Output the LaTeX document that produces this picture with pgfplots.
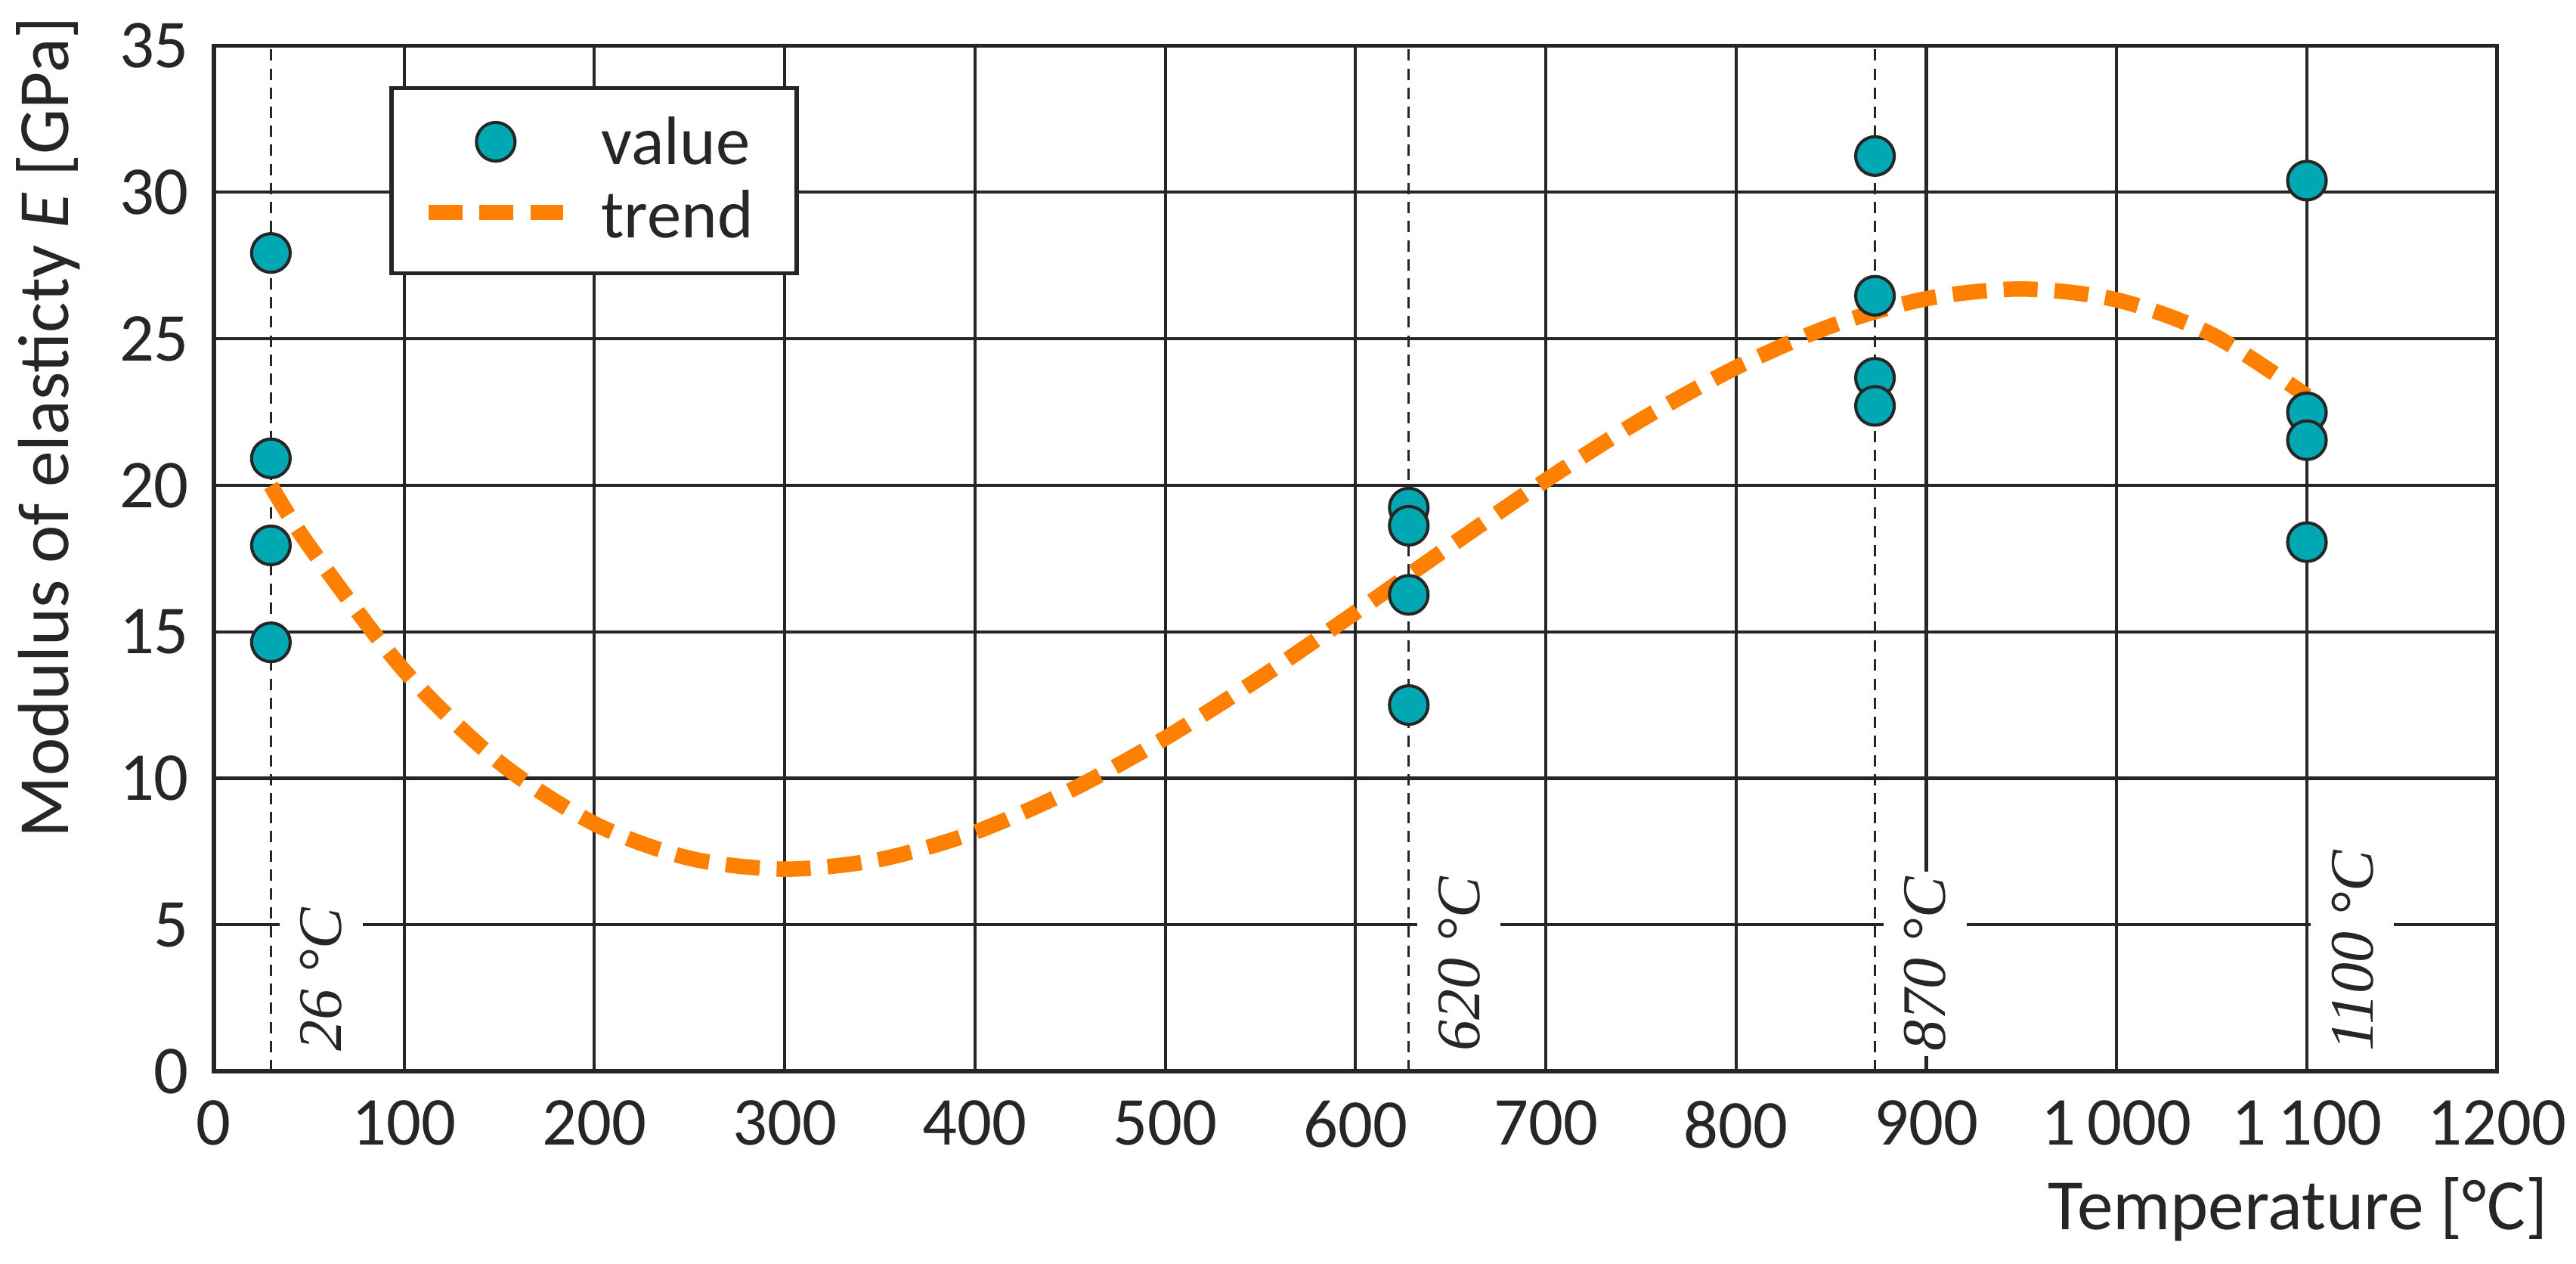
\documentclass[border=0pt]{standalone}
\usepackage{fontspec}
\setmainfont{Carlito}
\newfontfamily\labfont{Liberation Serif}
\usepackage{pgfplots}
\pgfplotsset{compat=1.18}
\usetikzlibrary{calc}
\definecolor{dk}{HTML}{262626}
\definecolor{tealc}{HTML}{00A8B4}
\definecolor{orgc}{HTML}{FF8000}
\newcommand{\fsz}{\fontsize{13.3}{16}\selectfont}
\newcommand{\lbs}{\fontsize{14}{16.8}\selectfont}
\newcommand{\lfs}{\labfont\itshape\fontsize{12}{14}\selectfont}
\pgfplotsset{
  markleg/.style={legend image code/.code={\draw[mark repeat=2,mark phase=2,##1] plot coordinates {(0pt,0.4pt) (13.1pt,0.4pt) (26.2pt,0.4pt)};}},
  lineleg/.style={legend image code/.code={\draw[##1] (0pt,1pt) -- (26.2pt,1pt);}},
}

\pgfplotstableread{
x y
30 27.93
30 20.92
30 17.95
30 14.64
628 19.24
628 18.62
628 16.26
628 12.50
873 31.24
873 26.47
873 23.67
873 22.71
1100 30.40
1100 22.49
1100 21.54
1100 18.06
}\values

\pgfplotstableread{
x y
30 19.99
50 17.94
100 13.68
150 10.55
200 8.45
250 7.27
300 6.90
350 7.23
400 8.16
450 9.58
500 11.37
550 13.43
600 15.66
650 17.94
700 20.17
750 22.23
800 24.02
850 25.44
900 26.37
950 26.70
1000 26.33
1050 25.15
1100 23.05
}\trend

\begin{document}
\begin{tikzpicture}
\begin{axis}[
  name=ax,
  scale only axis,
  width=443.2pt, height=199pt,
  xmin=0, xmax=1200, ymin=0, ymax=35,
  xtick={0,100,...,1200},
  xticklabels={0,100,200,300,400,500,600,700,800,900,1\,000,1\,100,1200},
  ytick={0,5,...,35},
  grid=major,
  major grid style={dk, line width=0.6pt},
  axis line style={dk, line width=0.8pt},
  major tick length=0pt,
  tick label style={font=\fsz, text=dk},
  xticklabel style={yshift=-2.2pt},
  yticklabel style={xshift=-1.3pt},
  /pgf/number format/assume math mode=true,
  clip=false,
  legend style={at={(rel axis cs:0.077,0.961)}, anchor=north west,
    draw=dk, line width=0.8pt, fill=white, font=\fsz, text=dk,
    inner xsep=5.6pt, inner ysep=3.9pt, row sep=0.4pt,
    nodes={inner sep=0pt, text height=10.9pt, text depth=3pt},
    cells={anchor=west},
    /tikz/every odd column/.append style={column sep=5.9pt}},
]
\addplot[dk, line width=0.45pt, dash pattern=on 2.2pt off 1.5pt, forget plot] coordinates {(30,0) (30,35)};
\addplot[dk, line width=0.45pt, dash pattern=on 2.2pt off 1.5pt, forget plot] coordinates {(628,0) (628,35)};
\addplot[dk, line width=0.45pt, dash pattern=on 2.2pt off 1.5pt, forget plot] coordinates {(873,0) (873,35)};

\node[xshift=1.5pt, yshift=2.7pt, rotate=90, anchor=north west, fill=white, inner xsep=1pt, inner ysep=4pt, font=\lfs, text=dk] at (axis cs:30,0) {26 °C};
\node[xshift=1.5pt, yshift=2.7pt, rotate=90, anchor=north west, fill=white, inner xsep=1pt, inner ysep=4pt, font=\lfs, text=dk] at (axis cs:628,0) {620 °C};
\node[xshift=1.5pt, yshift=2.7pt, rotate=90, anchor=north west, fill=white, inner xsep=1pt, inner ysep=4pt, font=\lfs, text=dk] at (axis cs:873,0) {870 °C};
\node[xshift=0.6pt, yshift=2.7pt, rotate=90, anchor=north west, fill=white, inner xsep=1pt, inner ysep=4pt, font=\lfs, text=dk] at (axis cs:1100,0) {1100 °C};

\addplot[only marks, mark=*, mark size=3.75pt, mark options={fill=tealc, draw=dk, line width=0.6pt}, markleg]
  table[x=x,y=y] {\values};
\addlegendentry{value\rule{2.8pt}{0pt}}
\addplot[orgc, line width=3pt, dash pattern=on 6.6pt off 3.3pt, smooth, lineleg]
  table[x=x,y=y] {\trend};
\addlegendentry{trend\rule{2.8pt}{0pt}}
\end{axis}
\node[xshift=-28.2pt, rotate=90, anchor=base, font=\lbs, text=dk] at ($(ax.south west)!0.628!(ax.north west)$) {Modulus of elasticty \textit{E} [GPa]};
\node[anchor=base east, font=\lbs, text=dk] at ([shift={(13.3pt,-30.7pt)}]ax.south east) {Temperature [°C]};
\pgfresetboundingbox
\path ([shift={(-41.5pt,-37.4pt)}]ax.south west) rectangle ([shift={(15.3pt,8.9pt)}]ax.north east);
\end{tikzpicture}
\end{document}
